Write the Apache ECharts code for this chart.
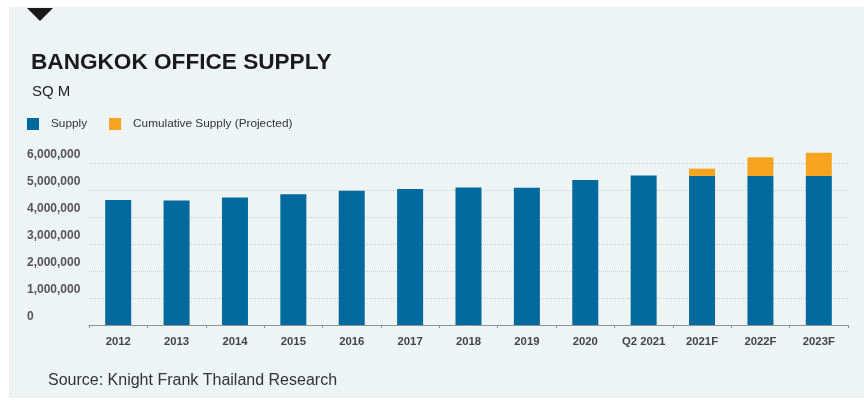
<!DOCTYPE html>
<html>
<head>
<meta charset="utf-8">
<script src="https://cdn.jsdelivr.net/npm/echarts@6/dist/echarts.min.js"></script>
<style>
html,body{margin:0;padding:0;background:#ffffff;}
#chart{width:864px;height:402px;}
</style>
</head>
<body>
<div id="chart"></div>
<script>
var categories = ['2012','2013','2014','2015','2016','2017','2018','2019','2020','Q2 2021','2021F','2022F','2023F'];
var supply = [4630000, 4610000, 4720000, 4840000, 4970000, 5040000, 5090000, 5080000, 5370000, 5540000, 5520000, 5520000, 5520000];
var projected = [0, 0, 0, 0, 0, 0, 0, 0, 0, 0, 270000, 690000, 860000];
var yTicks = [0, 1000000, 2000000, 3000000, 4000000, 5000000, 6000000];

var chart = echarts.init(document.getElementById('chart'), null, {renderer: 'canvas'});
var font = 'Liberation Sans, Arial, sans-serif';
var gridColors = yTicks.map(function(){ return '#cdd2d4'; }).concat(['rgba(0,0,0,0)']);

chart.setOption({
  backgroundColor: '#ffffff',
  animation: false,
  graphic: [
    {type: 'rect', z: -10, shape: {x: 9, y: 7, width: 855, height: 391}, style: {fill: '#eef3f4'}},
    {type: 'polygon', z: 10, shape: {points: [[27, 8], [53, 8], [40, 21]]}, style: {fill: '#1a1a1a'}}
  ],
  title: [
    {text: 'BANGKOK OFFICE SUPPLY', left: 31, top: 51, padding: 0,
     textStyle: {fontFamily: font, fontSize: 22.6, fontWeight: 'bold', color: '#1a1a1a'}},
    {text: 'SQ M', left: 32, top: 84, padding: 0,
     textStyle: {fontFamily: font, fontSize: 15, fontWeight: 'normal', color: '#222'}},
    {text: 'Source: Knight Frank Thailand Research', left: 48, top: 373, padding: 0,
     textStyle: {fontFamily: font, fontSize: 16, fontWeight: 'normal', color: '#333'}}
  ],
  legend: {
    left: 27, top: 118, padding: 0,
    itemWidth: 12, itemHeight: 12, itemGap: 22,
    icon: 'rect',
    textStyle: {fontFamily: font, fontSize: 11.8, color: '#333', padding: [0, 0, 0, 7]},
    data: ['Supply', 'Cumulative Supply (Projected)']
  },
  grid: {left: 89, right: 16, top: 149.5, bottom: 77, containLabel: false},
  xAxis: {
    type: 'category',
    data: categories,
    axisLine: {show: true, lineStyle: {color: '#8e9496', width: 1}},
    axisTick: {show: true, length: 3, lineStyle: {color: '#8e9496'}},
    axisLabel: {fontFamily: font, fontSize: 11.3, fontWeight: 'bold', color: '#444', margin: 11}
  },
  yAxis: {
    type: 'value',
    min: 0, max: 6500000, interval: 1000000,
    axisLine: {show: false},
    axisTick: {show: false},
    axisLabel: {
      showMaxLabel: false,
      fontFamily: font, fontSize: 12, fontWeight: 'bold', color: '#555',
      align: 'left', margin: 62, verticalAlign: 'bottom', padding: [0, 0, 2, 0],
      formatter: function (v) { return v.toString().replace(/\B(?=(\d{3})+(?!\d))/g, ','); }
    },
    splitLine: {show: true, lineStyle: {color: gridColors, type: 'dotted', width: 1}}
  },
  series: [
    {name: 'Supply', type: 'bar', stack: 's', barWidth: 26, data: supply,
     itemStyle: {color: '#006a9e'}},
    {name: 'Cumulative Supply (Projected)', type: 'bar', stack: 's', barWidth: 26, data: projected,
     itemStyle: {color: '#f6a31f'}}
  ]
});
</script>
</body>
</html>
